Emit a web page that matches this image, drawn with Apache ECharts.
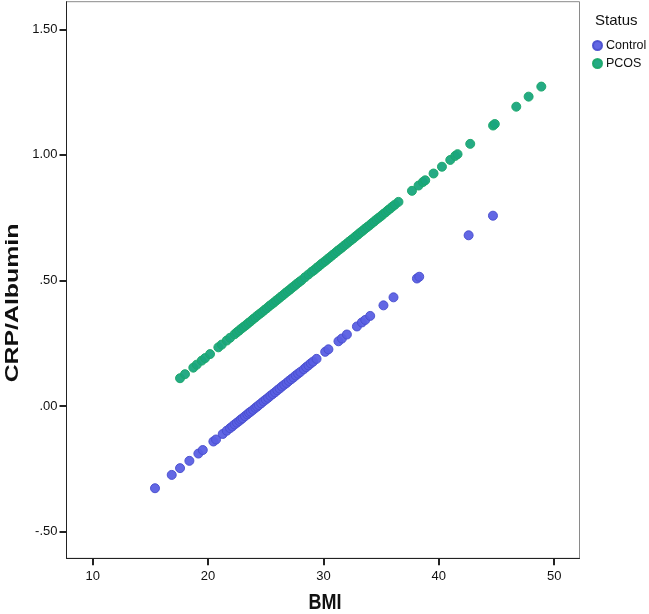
<!DOCTYPE html>
<html>
<head>
<meta charset="utf-8">
<script src="https://cdn.jsdelivr.net/npm/echarts@6/dist/echarts.min.js"></script>
<style>
html,body{margin:0;padding:0;background:#fff;}
#chart{width:649px;height:614px;}
</style>
</head>
<body>
<div id="chart"></div>
<script>
// ---- data ----
var seriesNames = ['Control', 'PCOS'];
var controlBMI = [15.40,16.85,17.57,18.38,19.16,19.54,20.46,20.69,21.27,21.62,
  21.9,22.1,22.3,22.5,22.7,22.85,23.0,23.2,23.4,23.55,23.7,23.9,24.1,24.25,24.4,24.6,24.8,25.0,25.2,25.4,
  25.6,25.8,26.0,26.2,26.4,26.6,26.8,27.0,27.2,27.4,27.6,27.8,28.0,28.3,28.5,28.7,28.9,29.1,29.4,
  30.15,30.43,31.30,31.60,32.03,32.90,33.33,33.62,34.05,35.20,36.07,38.10,38.30,42.58,44.69];
var controlCRP = [-0.327,-0.274,-0.247,-0.218,-0.189,-0.175,-0.141,-0.133,-0.111,-0.098,
  -0.088,-0.081,-0.073,-0.066,-0.059,-0.053,-0.048,-0.040,-0.033,-0.027,-0.022,-0.015,-0.007,-0.002,0.004,0.011,0.019,0.026,0.033,0.041,
  0.048,0.055,0.063,0.070,0.078,0.085,0.092,0.100,0.107,0.114,0.122,0.129,0.136,0.147,0.155,0.162,0.170,0.177,0.188,
  0.216,0.226,0.258,0.269,0.285,0.317,0.333,0.343,0.359,0.401,0.433,0.508,0.515,0.680,0.758];
var pcosBMI = [17.57,18.00,18.72,19.02,19.45,19.74,20.17,20.89,21.19,21.62,21.91,
  22.3,22.5,22.7,22.9,23.1,23.3,23.5,23.7,23.9,24.1,24.3,24.5,24.7,24.9,25.1,25.3,25.5,25.7,25.9,26.1,
  26.3,26.5,26.7,26.9,27.1,27.3,27.5,27.7,27.9,28.1,28.4,28.7,28.99,29.2,29.43,29.6,29.8,30.0,30.2,30.4,
  30.6,30.8,31.0,31.2,31.4,31.6,31.8,32.0,32.2,32.4,32.6,32.8,33.0,33.2,33.4,33.6,33.8,34.0,34.2,34.4,
  34.6,34.8,35.0,35.2,35.4,35.6,35.8,36.0,36.2,36.5,
  37.67,38.24,38.62,38.82,39.54,40.27,40.99,41.42,41.62,42.72,44.70,44.85,46.71,47.78,48.88];
var pcosCRP = [0.111,0.127,0.153,0.165,0.181,0.191,0.207,0.234,0.245,0.261,0.272,
  0.286,0.294,0.301,0.309,0.316,0.323,0.331,0.338,0.346,0.353,0.361,0.368,0.375,0.383,0.390,0.398,0.405,0.412,0.420,0.427,
  0.435,0.442,0.450,0.457,0.464,0.472,0.479,0.487,0.494,0.501,0.513,0.524,0.535,0.542,0.551,0.557,0.565,0.572,0.579,0.587,
  0.594,0.602,0.609,0.617,0.624,0.631,0.639,0.646,0.654,0.661,0.668,0.676,0.683,0.691,0.698,0.706,0.713,0.720,0.728,0.735,
  0.743,0.750,0.757,0.765,0.772,0.780,0.787,0.795,0.802,0.813,
  0.857,0.878,0.892,0.899,0.926,0.953,0.980,0.996,1.003,1.044,1.117,1.123,1.192,1.232,1.272];
var xTicks = [10, 20, 30, 40, 50];
var yTicks = [-0.5, 0, 0.5, 1.0, 1.5];
var xTitle = 'BMI';
var yTitle = 'CRP/Albumin';
var legendTitle = 'Status';

function zip(a, b) { return a.map(function (v, i) { return [v, b[i]]; }); }
function fmtY(v) {
  var s = Number(v).toFixed(2);
  return s.replace(/^(-?)0\./, '$1.');
}

var FONT = 'Liberation Sans, Arial, sans-serif';
var chart = echarts.init(document.getElementById('chart'), null, {renderer: 'canvas'});
chart.setOption({
  animation: false,
  backgroundColor: '#fff',
  color: ['#5a5fe3', '#19a57d'],
  grid: {left: 66.5, right: 69.5, top: 1.7, bottom: 55.7, show: true, borderColor: '#8a8a8a', borderWidth: 1, backgroundColor: 'transparent'},
  title: {text: legendTitle, left: 590, top: 8, textStyle: {fontFamily: FONT, fontSize: 15, fontWeight: 'normal', color: '#111'}},
  legend: {
    orient: 'vertical', left: 587, top: 34, itemWidth: 9, itemHeight: 9, itemGap: 5, padding: [5, 0, 5, 5],
    icon: 'circle', textStyle: {fontFamily: FONT, fontSize: 12.5, color: '#111', padding: [0, 0, 0, -1]},
    data: seriesNames
  },
  graphic: [{
    type: 'text', x: 13, y: 303, rotation: Math.PI / 2, scaleX: 1.38, scaleY: 1.05,
    style: {text: yTitle, font: 'bold 18px Liberation Sans, Arial, sans-serif', fill: '#111', align: 'center', verticalAlign: 'middle'}
  }, {
    type: 'text', x: 325, y: 603, scaleX: 1.0, scaleY: 1.25,
    style: {text: xTitle, font: 'bold 18px Liberation Sans, Arial, sans-serif', fill: '#111', align: 'center', verticalAlign: 'middle'}
  }],
  xAxis: {
    type: 'value', min: 7.73, max: 52.19,
    axisLine: {show: true, onZero: false, lineStyle: {color: '#222', width: 1}},
    axisTick: {show: true, length: 7, customValues: xTicks, lineStyle: {color: '#222', width: 2}},
    axisLabel: {customValues: xTicks, margin: 12, fontFamily: FONT, fontSize: 13, color: '#111'},
    splitLine: {show: false}
  },
  yAxis: {
    type: 'value', min: -0.606, max: 1.61,
    axisLine: {show: true, onZero: false, lineStyle: {color: '#222', width: 1}},
    axisTick: {show: true, length: 7, customValues: yTicks, lineStyle: {color: '#222', width: 2}},
    axisLabel: {customValues: yTicks, margin: 9, fontFamily: FONT, fontSize: 13, color: '#111', formatter: fmtY},
    splitLine: {show: false}
  },
  series: [
    {name: seriesNames[0], type: 'scatter', symbolSize: 9, data: zip(controlBMI, controlCRP),
     itemStyle: {color: '#5a5fe3', borderColor: '#4a4fcf', borderWidth: 1, opacity: 0.95}},
    {name: seriesNames[1], type: 'scatter', symbolSize: 9, data: zip(pcosBMI, pcosCRP),
     itemStyle: {color: '#19a57d', borderColor: '#1aa86a', borderWidth: 1, opacity: 0.95}}
  ]
});
</script>
</body>
</html>
